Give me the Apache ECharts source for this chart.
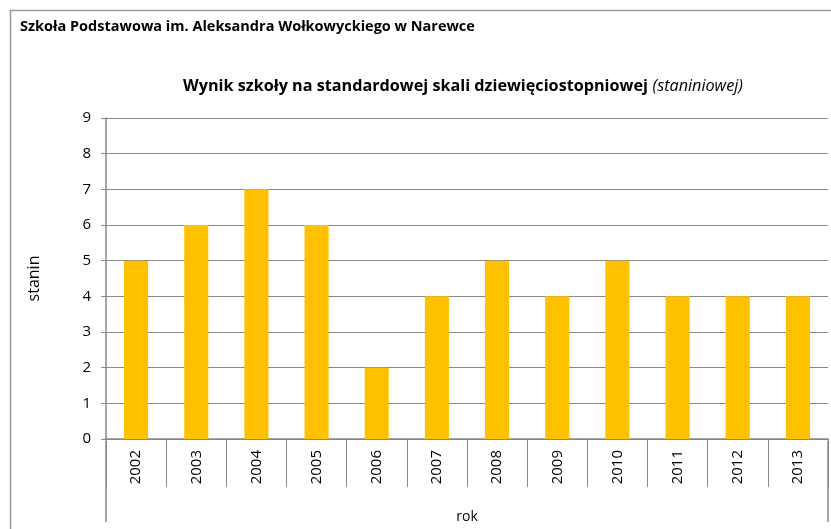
<!DOCTYPE html>
<html><head><meta charset="utf-8">
<script src="https://cdn.jsdelivr.net/npm/echarts@6/dist/echarts.min.js"></script>
<style>html,body{margin:0;padding:0;background:#fff}#c{width:831px;height:529px}</style>
</head><body><div id="c"></div>
<script>
const years = ['2002','2003','2004','2005','2006','2007','2008','2009','2010','2011','2012','2013'];
const stanin = [5,6,7,6,2,4,5,4,5,4,4,4];
const yTicks = [0,1,2,3,4,5,6,7,8,9];
const font = '"Open Sans", "Liberation Sans", sans-serif';
const chart = echarts.init(document.getElementById('c'));
chart.setOption({
  animation:false,
  textStyle:{fontFamily:font},
  title:[
    {text:'Szkoła Podstawowa im. Aleksandra Wołkowyckiego w Narewce', left:15, top:14,
     textStyle:{fontSize:14.5, fontWeight:'bold', color:'#000', fontFamily:font}},
    {text:'{b|Wynik szkoły na standardowej skali dziewięciostopniowej} {i|(staniniowej)}', left:458, textAlign:'center', top:72,
     textStyle:{rich:{b:{fontSize:16.2, fontWeight:'bold', color:'#000', fontFamily:font}, i:{fontSize:16.2, fontStyle:'italic', fontWeight:'normal', color:'#000', fontFamily:font}}}}
  ],
  grid:{left:106, right:3, top:118, bottom:88, containLabel:false},
  xAxis:{type:'category', data:years, name:'rok', nameLocation:'middle', nameGap:71,
    nameTextStyle:{fontSize:14, color:'#000', fontFamily:font},
    axisLine:{lineStyle:{color:'#888', width:1.5}},
    axisTick:{show:true, length:48, interval:0, alignWithLabel:false, lineStyle:{color:'#888'}},
    axisLabel:{rotate:90, margin:11, fontSize:15, color:'#000', fontFamily:font, interval:0}},
  yAxis:{type:'value', min:0, max:9, interval:1, name:'stanin', nameLocation:'middle', nameGap:64, nameRotate:90,
    nameTextStyle:{fontSize:16, color:'#000', fontFamily:font},
    axisLine:{show:true, lineStyle:{color:'#888', width:1.5}},
    axisTick:{show:true, length:5, lineStyle:{color:'#888'}},
    axisLabel:{fontSize:15, color:'#000', margin:15, fontFamily:font,
      formatter:v=>yTicks.includes(v)?String(v):''},
    splitLine:{lineStyle:{color:'#888', width:1}}},
  series:[{type:'bar', data:stanin, barWidth:'40%', itemStyle:{color:'#FFC000'}}],
  graphic:[
    {type:'rect', shape:{x:10.5, y:10.5, width:900, height:700}, style:{fill:'none', stroke:'#999', lineWidth:1.5}, silent:true},
    {type:'line', shape:{x1:106, y1:441, x2:106, y2:522}, style:{stroke:'#888', lineWidth:1.5}, silent:true},
    {type:'line', shape:{x1:828, y1:441, x2:828, y2:522}, style:{stroke:'#888', lineWidth:1.5}, silent:true}
  ]
});
</script></body></html>
